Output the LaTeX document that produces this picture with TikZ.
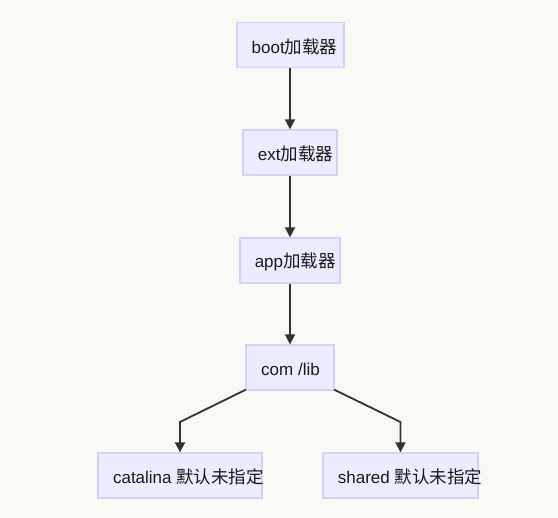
\documentclass[tikz,border=0pt]{standalone}
\usepackage{fontspec}
\setmainfont{Liberation Sans}
\newfontfamily\cjk[Scale=1.03]{Noto Sans CJK SC}
\usetikzlibrary{arrows.meta}
\definecolor{bg}{HTML}{F8F8F5}
\definecolor{boxfill}{HTML}{ECECFF}
\definecolor{boxline}{HTML}{D2D2F8}
\definecolor{ink}{HTML}{333333}
\definecolor{txt}{HTML}{1A1A1A}
\begin{document}
\begin{tikzpicture}[x=1pt,y=-1pt,
  box/.style={draw=boxline,fill=boxfill,line width=1.3pt,inner sep=0pt,minimum height=45pt},
  lbl/.style={text=txt,font=\fontsize{17}{20}\selectfont,inner sep=0pt},
  arr/.style={draw=ink,line width=1.8pt,-{Triangle[length=10pt,width=10pt]}}]
\fill[bg] (0,0) rectangle (558,518);
\useasboundingbox (0,0) rectangle (558,518);
% boxes
\node[box,minimum width=107pt] (boot) at (290.5,45) {};
\node[box,minimum width=94pt]  (ext)  at (290,152.5) {};
\node[box,minimum width=100pt] (app)  at (290,260.5) {};
\node[box,minimum width=88pt]  (com)  at (290,367.5) {};
\node[box,minimum width=164pt] (cat)  at (180,475.5) {};
\node[box,minimum width=155pt] (shr)  at (400.5,475.5) {};
% labels
\node[lbl] (bootT) at (294.5,46.5) {boot{\cjk 加载器}};
\node[lbl] (extT)  at (295.5,154) {ext{\cjk 加载器}};
\node[lbl] (appT)  at (295.2,262) {app{\cjk 加载器}};
\node[lbl] (comT)  at (290.5,369) {com /lib};
\node[lbl] (catT)  at (188.5,477) {catalina {\cjk 默认未指定}};
\node[lbl] (shrT)  at (410,477) {shared {\cjk 默认未指定}};
% connectors
\coordinate (bendL) at (180,422);
\coordinate (bendR) at (400.5,422);
\draw[arr] (boot.south -| 290,0) -- (ext.north);
\draw[arr] (ext.south) -- (app.north);
\draw[arr] (app.south) -- (com.north);
\draw[arr] ([xshift=0.5pt,yshift=1pt]com.south west) -- (bendL) -- (cat.north);
\draw[arr] ([xshift=-0.5pt,yshift=1pt]com.south east) -- (bendR) -- (shr.north);
\end{tikzpicture}
\end{document}
